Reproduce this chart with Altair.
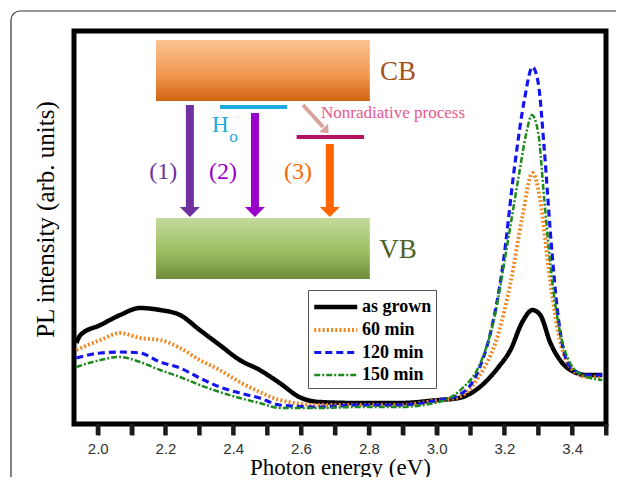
import altair as alt
import pandas as pd

# ---------------- spectra ----------------
series_names = ["as grown", "60 min", "120 min", "150 min"]

grown_x = [1.937, 1.949, 2.008, 2.066, 2.125, 2.184, 2.243, 2.301, 2.360, 2.419, 2.478, 2.537, 2.595, 2.654,
           2.772, 2.889, 3.007, 3.066, 3.124, 3.183, 3.218, 3.253, 3.283, 3.306, 3.336, 3.371, 3.406, 3.442, 3.489]
grown_y = [81, 89, 99, 109, 116, 114, 109, 94, 79, 64, 54, 41, 27, 22,
           21, 21, 24, 26, 36, 57, 74, 102, 114, 109, 81, 61, 52, 49, 49]

m60_x = [1.937, 2.008, 2.066, 2.125, 2.184, 2.243, 2.301, 2.360, 2.419, 2.478, 2.537, 2.654, 2.772, 2.889,
         3.007, 3.066, 3.124, 3.183, 3.218, 3.253, 3.283, 3.306, 3.330, 3.359, 3.394, 3.442, 3.489]
m60_y = [74, 84, 91, 86, 84, 76, 64, 54, 42, 32, 24, 19, 19, 19,
         24, 27, 47, 91, 141, 207, 251, 224, 157, 91, 57, 47, 47]

m120_x = [1.937, 2.008, 2.066, 2.125, 2.184, 2.243, 2.301, 2.360, 2.419, 2.478, 2.537, 2.654, 2.772, 2.889,
          3.007, 3.066, 3.124, 3.159, 3.195, 3.230, 3.259, 3.283, 3.300, 3.318, 3.336, 3.359, 3.383, 3.406,
          3.442, 3.489]
m120_y = [66, 71, 72, 71, 62, 56, 46, 37, 31, 26, 19, 17, 19, 19,
          24, 29, 54, 91, 157, 257, 324, 357, 341, 274, 191, 107, 64, 54,
          49, 49]

m150_x = [1.937, 2.008, 2.066, 2.125, 2.184, 2.243, 2.301, 2.360, 2.419, 2.478, 2.537, 2.654, 2.772, 2.889,
          3.007, 3.077, 3.124, 3.171, 3.206, 3.242, 3.265, 3.281, 3.300, 3.318, 3.342, 3.365, 3.394, 3.430,
          3.489]
m150_y = [57, 64, 67, 62, 54, 47, 39, 32, 26, 21, 16, 16, 17, 17,
          22, 36, 57, 107, 174, 247, 291, 309, 291, 224, 141, 91, 61, 49,
          44]

tick_values = [2.0, 2.1, 2.2, 2.3, 2.4, 2.5, 2.6, 2.7, 2.8, 2.9, 3.0, 3.1, 3.2, 3.3, 3.4, 3.5]

rows = []
for name, xs, ys in zip(series_names, [grown_x, m60_x, m120_x, m150_x], [grown_y, m60_y, m120_y, m150_y]):
    for i, (a, b) in enumerate(zip(xs, ys)):
        rows.append({"x": a, "y": b, "series": name, "order": i})
spec = pd.DataFrame(rows)

# ---------------- band-diagram inset (in data coordinates) ----------------
band_x0 = [2.172, 2.172]
band_x1 = [2.803, 2.803]
band_y0 = [323, 145]
band_y1 = [384, 206]

level_x0 = [2.361, 2.587]
level_x1 = [2.559, 2.786]
level_y = [317, 287]

arrow_x = [2.272, 2.464, 2.685]
arrow_top = [319, 311, 280]
arrow_tip = [207, 207, 207]

nr_x0, nr_y0, nr_x1, nr_y1 = 2.606, 319, 2.665, 297
nr_head_x, nr_head_y = 2.674, 293.5

text_items = ["CB", "VB", "Nonradiative process", "H", "o", "(1)", "(2)", "(3)"]
text_x = [2.886, 2.886, 2.659, 2.362, 2.401, 2.193, 2.370, 2.591]
text_y = [352, 174, 311, 299, 287, 252, 252, 252]

# ---------------- styles ----------------
SERIF = "Liberation Serif, Times New Roman, serif"
SANS = "Liberation Sans, Arial, sans-serif"
TICK_COLOR = "#1a1a1a"
line_colors = ["#000000", "#F0861E", "#1414F0", "#1E8A1E"]
line_dashes = [[1, 0], [2, 2.2], [7, 4], [6, 2, 2, 2]]
line_widths = [4.5, 2.5, 3, 2]
band_grads = [
    ["#F9C393", "#F29A55", "#D1640F"],
    ["#C4DA9C", "#9DBE62", "#6F8C3B"],
]
level_colors = ["#1CA9E1", "#B3135F"]
arrow_colors = ["#7030A0", "#9900CC", "#FF6600"]
text_colors = ["#A5521B", "#4E5F28", "#E9588D", "#1CA9E1", "#1CA9E1", "#7030A0", "#9900CC", "#FF6600"]
text_sizes = [27, 27, 17, 23, 17, 24, 24, 24]
text_align = ["center", "center", "left", "center", "center", "center", "center", "center"]

xscale = alt.Scale(domain=[1.93, 3.50], nice=False, zero=False)
yscale = alt.Scale(domain=[0, 393], nice=False, zero=True)

xaxis = alt.Axis(
    title="Photon energy (eV)", values=tick_values, grid=False, domain=False,
    ticks=True, tickColor=TICK_COLOR, tickSize=11, tickWidth=4, zindex=5,
    labelExpr="(round(datum.value*10) % 2 == 0) ? format(datum.value, '.1f') : ''",
    labelFont=SANS, labelFontSize=15, labelColor="#333333", labelPadding=6,
    titleFont=SERIF, titleFontSize=23, titleFontWeight="normal", titleColor="black", titlePadding=0,
)
yaxis = alt.Axis(
    title="PL intensity (arb. units)", labels=False, ticks=False, domain=False, grid=False,
    titleFont=SERIF, titleFontSize=25, titleFontWeight="normal", titleColor="black",
    titleX=-29, titleY=188, titleAngle=270, titleAlign="center", titleBaseline="middle",
)

X = alt.X("x:Q", scale=xscale, axis=xaxis)
Y = alt.Y("y:Q", scale=yscale, axis=yaxis)

layers = []

for i in range(2):
    df = pd.DataFrame({"x": [band_x0[i]], "x2": [band_x1[i]], "y": [band_y0[i]], "y2": [band_y1[i]]})
    grad = alt.LinearGradient(
        gradient="linear", x1=0, x2=0, y1=0, y2=1,
        stops=[alt.GradientStop(color=band_grads[i][0], offset=0),
               alt.GradientStop(color=band_grads[i][1], offset=0.55),
               alt.GradientStop(color=band_grads[i][2], offset=1)],
    )
    layers.append(alt.Chart(df).mark_rect(color=grad).encode(x=X, x2="x2:Q", y=Y, y2="y2:Q"))

for i in range(2):
    df = pd.DataFrame({"x": [level_x0[i]], "x2": [level_x1[i]], "y": [level_y[i]]})
    layers.append(alt.Chart(df).mark_rule(color=level_colors[i], strokeWidth=4).encode(x=X, x2="x2:Q", y=Y))

for i in range(3):
    df = pd.DataFrame({"x": [arrow_x[i]], "y": [arrow_top[i]], "y2": [arrow_tip[i] + 9]})
    layers.append(alt.Chart(df).mark_rule(color=arrow_colors[i], strokeWidth=8).encode(x=X, y=Y, y2="y2:Q"))
    dh = pd.DataFrame({"x": [arrow_x[i]], "y": [arrow_tip[i] + 5]})
    layers.append(alt.Chart(dh).mark_point(
        shape="M-1,-0.5L1,-0.5L0,0.5Z", filled=True, fill=arrow_colors[i], size=400, opacity=1, strokeWidth=0
    ).encode(x=X, y=Y))

df = pd.DataFrame({"x": [nr_x0], "x2": [nr_x1], "y": [nr_y0], "y2": [nr_y1]})
layers.append(alt.Chart(df).mark_rule(color="#D9A39C", strokeWidth=4).encode(x=X, x2="x2:Q", y=Y, y2="y2:Q"))
dh = pd.DataFrame({"x": [nr_head_x], "y": [nr_head_y]})
layers.append(alt.Chart(dh).mark_point(
    shape="M-1,-0.6L1,-0.6L0,0.6Z", filled=True, fill="#D9A39C", size=150, opacity=1, strokeWidth=0, angle=317
).encode(x=X, y=Y))

for i, t in enumerate(text_items):
    df = pd.DataFrame({"x": [text_x[i]], "y": [text_y[i]], "t": [t]})
    layers.append(alt.Chart(df).mark_text(
        font=SERIF, fontSize=text_sizes[i], color=text_colors[i], align=text_align[i], baseline="middle"
    ).encode(x=X, y=Y, text="t:N"))

legend = alt.Legend(
    title=None, orient="none", legendX=234, legendY=259,
    symbolType="M-1,0L3,0", symbolSize=462,
    labelFont=SERIF, labelFontSize=18, labelFontWeight="bold", labelColor="black", labelOffset=24,
    strokeColor="#555555", fillColor="white", padding=4, rowPadding=1, cornerRadius=0,
)
lines = alt.Chart(spec).mark_line(interpolate="monotone").encode(
    x=X, y=Y,
    color=alt.Color("series:N", sort=series_names, scale=alt.Scale(domain=series_names, range=line_colors), legend=legend),
    strokeDash=alt.StrokeDash("series:N", sort=series_names, scale=alt.Scale(domain=series_names, range=line_dashes), legend=legend),
    strokeWidth=alt.StrokeWidth("series:N", sort=series_names, scale=alt.Scale(domain=series_names, range=line_widths), legend=legend),
    order="order:Q",
)
layers.append(lines)

# outward ticks under the frame, one per tick value
ticks_df = pd.DataFrame({"x": tick_values})
layers.append(alt.Chart(ticks_df).mark_rule(color=TICK_COLOR, strokeWidth=4, clip=False).encode(
    x=X, y=alt.value(393), y2=alt.value(404)
))

layers.append(
    alt.Chart(pd.DataFrame({"k": [0]})).mark_rect(
        fillOpacity=0, stroke="#333333", strokeWidth=1.2, cornerRadius=9
    ).encode(x=alt.value(-63), x2=alt.value(700), y=alt.value(-20), y2=alt.value(600))
)

chart = alt.layer(*layers).properties(
    width=532, height=393,
    background="white",
    autosize=alt.AutoSizeParams(type="none"),
    padding={"left": 66, "top": 23, "right": 10, "bottom": 53},
).configure_view(stroke="black", strokeWidth=5)

chart.save("out.html", embed_options={"renderer": "svg", "actions": False})
